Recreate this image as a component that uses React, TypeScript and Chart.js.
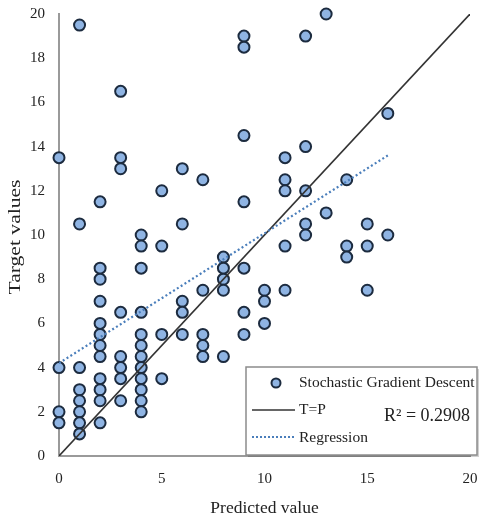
import { useEffect, useRef } from "react";
import { Chart, registerables } from "chart.js";
Chart.register(...registerables);

const predicted = [
  0, 0, 0, 0,
  1, 1, 1, 1, 1, 1, 1, 1,
  2, 2, 2, 2, 2, 2, 2, 2, 2, 2, 2, 2,
  3, 3, 3, 3, 3, 3, 3, 3,
  4, 4, 4, 4, 4, 4, 4, 4, 4, 4, 4, 4,
  5, 5, 5, 5,
  6, 6, 6, 6, 6,
  7, 7, 7, 7, 7,
  8, 8, 8, 8, 8,
  9, 9, 9, 9, 9, 9, 9,
  10, 10, 10,
  11, 11, 11, 11, 11,
  12, 12, 12, 12, 12,
  13, 13,
  14, 14, 14,
  15, 15, 15,
  16, 16,
];
const target = [
  13.5, 4, 2, 1.5,
  19.5, 10.5, 4, 3, 2.5, 2, 1.5, 1,
  11.5, 8.5, 8, 7, 6, 5.5, 5, 4.5, 3.5, 3, 2.5, 1.5,
  16.5, 13.5, 13, 6.5, 4.5, 4, 3.5, 2.5,
  10, 9.5, 8.5, 6.5, 5.5, 5, 4.5, 4, 3.5, 3, 2.5, 2,
  12, 9.5, 5.5, 3.5,
  13, 10.5, 7, 6.5, 5.5,
  12.5, 7.5, 5.5, 5, 4.5,
  9, 8.5, 8, 7.5, 4.5,
  19, 18.5, 14.5, 11.5, 8.5, 6.5, 5.5,
  7.5, 7, 6,
  13.5, 12.5, 12, 9.5, 7.5,
  19, 14, 12, 10.5, 10,
  20, 11,
  12.5, 9.5, 9,
  10.5, 9.5, 7.5,
  15.5, 10,
];
const identityX = [0, 20];
const identityY = [0, 20];
const regressionX = [0, 16];
const regressionY = [4.2, 13.6];
const xTickValues = [0, 5, 10, 15, 20];
const yTickValues = [0, 2, 4, 6, 8, 10, 12, 14, 16, 18, 20];
const seriesLabels = ["Stochastic Gradient Descent", "T=P", "Regression"];
const r2Label = "R² = 0.2908";
const xTitle = "Predicted value";
const yTitle = "Target values";

const POINT_FILL = "#8fb4e3";
const POINT_BORDER = "#1c2b3f";
const REG_COLOR = "#4a7ebb";
const SERIF = "'Liberation Serif', 'DejaVu Serif', serif";

const yTitlePlugin = {
  id: "yTitle",
  afterDraw(chart: any) {
    const ctx = chart.ctx as CanvasRenderingContext2D;
    const area = chart.chartArea;
    ctx.save();
    ctx.translate(16, (area.top + area.bottom) / 2 + 2);
    ctx.rotate(-Math.PI / 2);
    ctx.scale(1.35, 1);
    ctx.font = `16px ${SERIF}`;
    ctx.fillStyle = "#222";
    ctx.textAlign = "center";
    ctx.textBaseline = "middle";
    ctx.fillText(yTitle, 0, 0);
    ctx.restore();
  },
};

const legendPlugin = {
  id: "boxLegend",
  afterDraw(chart: any) {
    const ctx = chart.ctx as CanvasRenderingContext2D;
    const L = 246, T = 367, W = 231, H = 88;
    ctx.save();
    ctx.fillStyle = "rgba(0,0,0,0.18)";
    ctx.fillRect(L + 2, T + 2, W, H);
    ctx.fillStyle = "#ffffff";
    ctx.fillRect(L, T, W, H);
    ctx.strokeStyle = "#8c8c8c";
    ctx.lineWidth = 1.5;
    ctx.strokeRect(L, T, W, H);

    ctx.font = `15.5px ${SERIF}`;
    ctx.textBaseline = "middle";
    ctx.textAlign = "left";

    ctx.beginPath();
    ctx.arc(276, 383, 4.5, 0, Math.PI * 2);
    ctx.fillStyle = POINT_FILL;
    ctx.fill();
    ctx.lineWidth = 2;
    ctx.strokeStyle = POINT_BORDER;
    ctx.stroke();
    ctx.fillStyle = "#222";
    ctx.fillText(seriesLabels[0], 299, 383);

    ctx.beginPath();
    ctx.moveTo(252, 410);
    ctx.lineTo(295, 410);
    ctx.strokeStyle = "#333";
    ctx.lineWidth = 1.6;
    ctx.stroke();
    ctx.fillText(seriesLabels[1], 299, 410);

    ctx.beginPath();
    ctx.setLineDash([2, 2]);
    ctx.moveTo(252, 437);
    ctx.lineTo(295, 437);
    ctx.strokeStyle = REG_COLOR;
    ctx.lineWidth = 2;
    ctx.stroke();
    ctx.setLineDash([]);
    ctx.fillText(seriesLabels[2], 299, 438);

    ctx.font = `18px ${SERIF}`;
    ctx.fillText(r2Label, 384, 416);
    ctx.restore();
  },
};

export default function App() {
  const ref = useRef<HTMLCanvasElement | null>(null);
  useEffect(() => {
    document.body.style.margin = "0";
    const canvas = ref.current!;
    const chart = new Chart(canvas, {
      type: "scatter",
      data: {
        datasets: [
          {
            label: seriesLabels[1],
            data: identityX.map((x, i) => ({ x, y: identityY[i] })),
            showLine: true,
            borderColor: "#333",
            borderWidth: 1.6,
            pointRadius: 0,
            order: 2,
          } as any,
          {
            label: seriesLabels[2],
            data: regressionX.map((x, i) => ({ x, y: regressionY[i] })),
            showLine: true,
            borderColor: REG_COLOR,
            borderWidth: 2.2,
            borderDash: [2, 2.5],
            pointRadius: 0,
            order: 1,
          } as any,
          {
            label: seriesLabels[0],
            data: predicted.map((x, i) => ({ x, y: target[i] })),
            backgroundColor: POINT_FILL,
            borderColor: POINT_BORDER,
            borderWidth: 2,
            pointRadius: 5.5,
            clip: false,
            order: 3,
          } as any,
        ],
      },
      options: {
        animation: false,
        responsive: false,
        devicePixelRatio: 1,
        layout: { autoPadding: false, padding: { top: 14, right: 17, left: 0, bottom: 0 } },
        plugins: {
          legend: { display: false },
          tooltip: { enabled: false },
        },
        scales: {
          x: {
            type: "linear",
            min: 0,
            max: 20,
            afterBuildTicks: (s: any) => {
              s.ticks = xTickValues.map((v) => ({ value: v }));
            },
            ticks: {
              color: "#222",
              font: { family: SERIF, size: 15 },
              padding: 3,
              maxRotation: 0,
            },
            grid: { display: false, drawTicks: true, tickLength: 11, color: "rgba(0,0,0,0)" },
            border: { color: "#9a9a9a", width: 2 },
            title: {
              display: true,
              text: xTitle,
              color: "#222",
              font: { family: SERIF, size: 17.5 },
              padding: { top: 4, bottom: 3 },
            },
            afterFit: (s: any) => {
              s.height = 66;
            },
          },
          y: {
            type: "linear",
            min: 0,
            max: 20,
            afterBuildTicks: (s: any) => {
              s.ticks = yTickValues.map((v) => ({ value: v }));
            },
            ticks: {
              color: "#222",
              font: { family: SERIF, size: 15 },
              padding: 3,
            },
            grid: { display: false, drawTicks: true, tickLength: 11, color: "rgba(0,0,0,0)" },
            border: { color: "#9a9a9a", width: 2 },
            title: { display: false },
            afterFit: (s: any) => {
              s.width = 59;
            },
          },
        },
      } as any,
      plugins: [legendPlugin, yTitlePlugin],
    });
    return () => chart.destroy();
  }, []);
  return <canvas ref={ref} width={487} height={522} style={{ display: "block" }} />;
}
